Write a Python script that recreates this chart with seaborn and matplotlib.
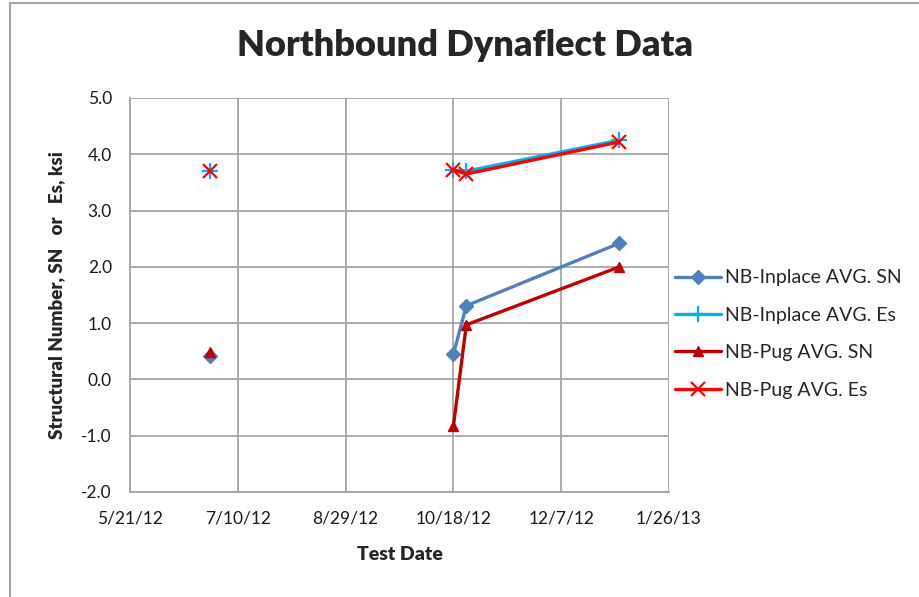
import matplotlib
matplotlib.use("Agg")
import matplotlib.pyplot as plt
from matplotlib.lines import Line2D
from matplotlib.patches import Rectangle
import seaborn as sns
import pandas as pd

# --- data ---
test_dates = ["2012-06-27", "2012-10-18", "2012-10-24", "2013-01-03"]
segments = [0, 1, 1, 1]  # first test stands alone (no line to the later ones)
inplace_sn = [0.42, 0.45, 1.31, 2.42]
inplace_es = [3.71, 3.72, 3.70, 4.25]
pug_sn = [0.48, -0.83, 0.97, 2.00]
pug_es = [3.71, 3.72, 3.65, 4.22]

series_names = ["NB-Inplace AVG. SN", "NB-Inplace AVG. Es", "NB-Pug AVG. SN", "NB-Pug AVG. Es"]
series_vals = [inplace_sn, inplace_es, pug_sn, pug_es]
colors = ["#4F81BD", "#00B0F0", "#C00000", "#FF0000"]
markers = ["D", "+", "^", "x"]
msizes = [7, 11, 7, 10]

x_ticks = ["2012-05-21", "2012-07-10", "2012-08-29", "2012-10-18", "2012-12-07", "2013-01-26"]
x_tick_labels = ["5/21/12", "7/10/12", "8/29/12", "10/18/12", "12/7/12", "1/26/13"]
y_ticks = [5.0, 4.0, 3.0, 2.0, 1.0, 0.0, -1.0, -2.0]

sns.set_theme(style="white")
plt.rcParams["font.family"] = ["Lato", "DejaVu Sans"]

fig = plt.figure(figsize=(9.19, 5.97), dpi=100)
ax = fig.add_axes([130 / 919, 1 - 492 / 597, 539 / 919, 394 / 597])

rows = []
for name, vals in zip(series_names, series_vals):
    for d, s, v in zip(test_dates, segments, vals):
        rows.append({"series": name, "date": pd.Timestamp(d), "seg": s, "value": v})
df = pd.DataFrame(rows)

for name, c, m, ms in zip(series_names, colors, markers, msizes):
    sub = df[df["series"] == name]
    mew = 1.6 if m in ("+", "x") else 1
    sns.lineplot(data=sub, x="date", y="value", units="seg", estimator=None,
                 color=c, marker=m, markersize=ms, markeredgecolor=c,
                 markeredgewidth=mew, linewidth=2.4, ax=ax, legend=False)

ax.set_xlim(pd.Timestamp(x_ticks[0]), pd.Timestamp(x_ticks[-1]))
ax.set_xticks([pd.Timestamp(t) for t in x_ticks])
ax.set_xticklabels(x_tick_labels, fontsize=12.5)
ax.set_ylim(-2.0, 5.0)
ax.set_yticks(y_ticks)
ax.set_yticklabels([f"{v:.1f}" for v in y_ticks], fontsize=12.5)

ax.grid(True, color="#A6A6A6", linewidth=1.3)
ax.set_axisbelow(True)
for side in ["top", "right"]:
    ax.spines[side].set_visible(False)
for side in ["left", "bottom"]:
    ax.spines[side].set_color("#A6A6A6")
    ax.spines[side].set_linewidth(1.3)
ax.tick_params(axis="both", direction="out", length=5, width=1.3, color="#A6A6A6",
               pad=8, labelcolor="#1A1A1A")

ax.set_xlabel("Test Date", fontsize=14, fontweight="heavy", labelpad=14)
ax.set_ylabel("Structural Number, SN   or   Es, ksi", fontsize=13.5, fontweight="heavy", labelpad=12)
fig.text(465 / 919, 1 - 45 / 597, "Northbound Dynaflect Data", fontsize=26,
         fontweight="heavy", ha="center", va="center")

handles = [Line2D([0], [0], color=c, marker=m, markersize=ms, markeredgecolor=c,
                  markeredgewidth=1.6 if m in ("+", "x") else 1, linewidth=2.4)
           for c, m, ms in zip(colors, markers, msizes)]
fig.legend(handles, series_names, loc="center left", bbox_to_anchor=(657 / 919, 1 - 334 / 597),
           frameon=False, fontsize=14, handlelength=2.4, handletextpad=0.2, labelspacing=1.05)

fig.add_artist(Rectangle((10 / 919, -0.01), 1.0, 1 - 3 / 597 + 0.01, transform=fig.transFigure,
                         fill=False, edgecolor="#A6A6A6", linewidth=1.5))

fig.savefig("out.png", dpi=100)
